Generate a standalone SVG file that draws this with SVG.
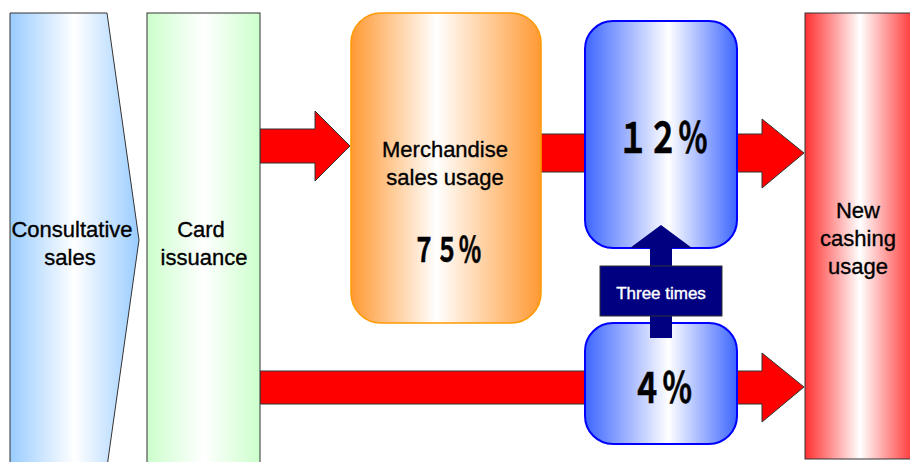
<svg xmlns="http://www.w3.org/2000/svg" width="910" height="462" viewBox="0 0 910 462">
<defs>
<linearGradient id="gBlueL" x1="0" y1="0" x2="1" y2="0"><stop offset="0" stop-color="#99ccff"/><stop offset="0.5" stop-color="#ffffff"/><stop offset="1" stop-color="#99ccff"/></linearGradient>
<linearGradient id="gGreen" x1="0" y1="0" x2="1" y2="0"><stop offset="0" stop-color="#ccffcc"/><stop offset="0.5" stop-color="#ffffff"/><stop offset="1" stop-color="#ccffcc"/></linearGradient>
<linearGradient id="gOrange" x1="0" y1="0" x2="1" y2="0"><stop offset="0" stop-color="#ff9933"/><stop offset="0.45" stop-color="#ffffff"/><stop offset="1" stop-color="#ff9933"/></linearGradient>
<linearGradient id="gBlue" x1="0" y1="0" x2="1" y2="0"><stop offset="0" stop-color="#3d66ff"/><stop offset="0.55" stop-color="#ffffff"/><stop offset="1" stop-color="#3d66ff"/></linearGradient>
<linearGradient id="gRed" x1="0" y1="0" x2="1" y2="0"><stop offset="0" stop-color="#ff2f2f"/><stop offset="0.5" stop-color="#ffffff"/><stop offset="1" stop-color="#ff2f2f"/></linearGradient>
<style>
.lbl{font-family:"Liberation Sans",Arial,sans-serif;font-size:22px;fill:#000;stroke:#000;stroke-width:0.35px;text-anchor:middle}
.pct{font-family:"Liberation Sans",Arial,"Noto Sans CJK JP",sans-serif;font-weight:bold;fill:#000;stroke:#000;stroke-width:0.6px;text-anchor:middle}
.red{fill:#ff0000;stroke:#333;stroke-width:1}
.edge{stroke:#333;stroke-width:1}
.bbox{fill:url(#gBlue);stroke:#0000ff;stroke-width:2}
</style>
</defs>
<rect width="910" height="462" fill="#ffffff"/>
<g id="connectors">
<polygon class="red" points="260,129 315,129 315,111 350,146 315,181 315,163 260,163"/>
<rect class="red" x="540" y="134" width="50" height="38"/>
<polygon class="red" points="730,134 762,134 762,119 804,153 762,188 762,172 730,172"/>
<polygon class="red" points="260,371 762,371 762,353 804,387 762,422 762,404 260,404"/>
</g>
<g id="consultative">
<polygon class="edge" fill="url(#gBlueL)" points="10,13 107,13 139,240 107,467 10,467"/>
<text class="lbl" x="72" y="237">Consultative</text>
<text class="lbl" x="70" y="265">sales</text>
</g>
<g id="card">
<rect class="edge" fill="url(#gGreen)" x="147" y="13" width="113" height="460"/>
<text class="lbl" x="201" y="237">Card</text>
<text class="lbl" x="204" y="265">issuance</text>
</g>
<g id="merchandise">
<rect x="351" y="13" width="190" height="310" rx="30" ry="30" fill="url(#gOrange)" stroke="#ff9900" stroke-width="1.5"/>
<text class="lbl" x="445" y="157">Merchandise</text>
<text class="lbl" x="445" y="185">sales usage</text>
<text class="pct" x="447" y="262" font-size="34" textLength="69" lengthAdjust="spacingAndGlyphs">７５％</text>
</g>
<g id="pct12">
<rect class="bbox" x="585" y="21" width="152" height="227" rx="28" ry="28"/>
<text class="pct" x="663" y="153" font-size="42" textLength="90" lengthAdjust="spacingAndGlyphs">１２％</text>
</g>
<g id="pct4">
<rect class="bbox" x="585" y="323" width="152" height="121" rx="28" ry="28"/>
<text class="pct" x="662" y="403" font-size="42" textLength="61" lengthAdjust="spacingAndGlyphs">４％</text>
</g>
<g id="cashing">
<rect class="edge" fill="url(#gRed)" x="805" y="13" width="110" height="446"/>
<text class="lbl" x="858" y="218">New</text>
<text class="lbl" x="858" y="246">cashing</text>
<text class="lbl" x="858" y="274">usage</text>
</g>
<g id="three-times">
<polygon fill="#000080" points="661,225 692,248 672,248 672,338 650,338 650,248 630,248"/>
<rect x="600" y="266" width="122" height="50" fill="#000080" stroke="#333" stroke-width="1"/>
<text x="661" y="299" font-family="'Liberation Sans',Arial,sans-serif" font-size="17" fill="#ffffff" stroke="#ffffff" stroke-width="0.4" text-anchor="middle">Three times</text>
</g>
</svg>
